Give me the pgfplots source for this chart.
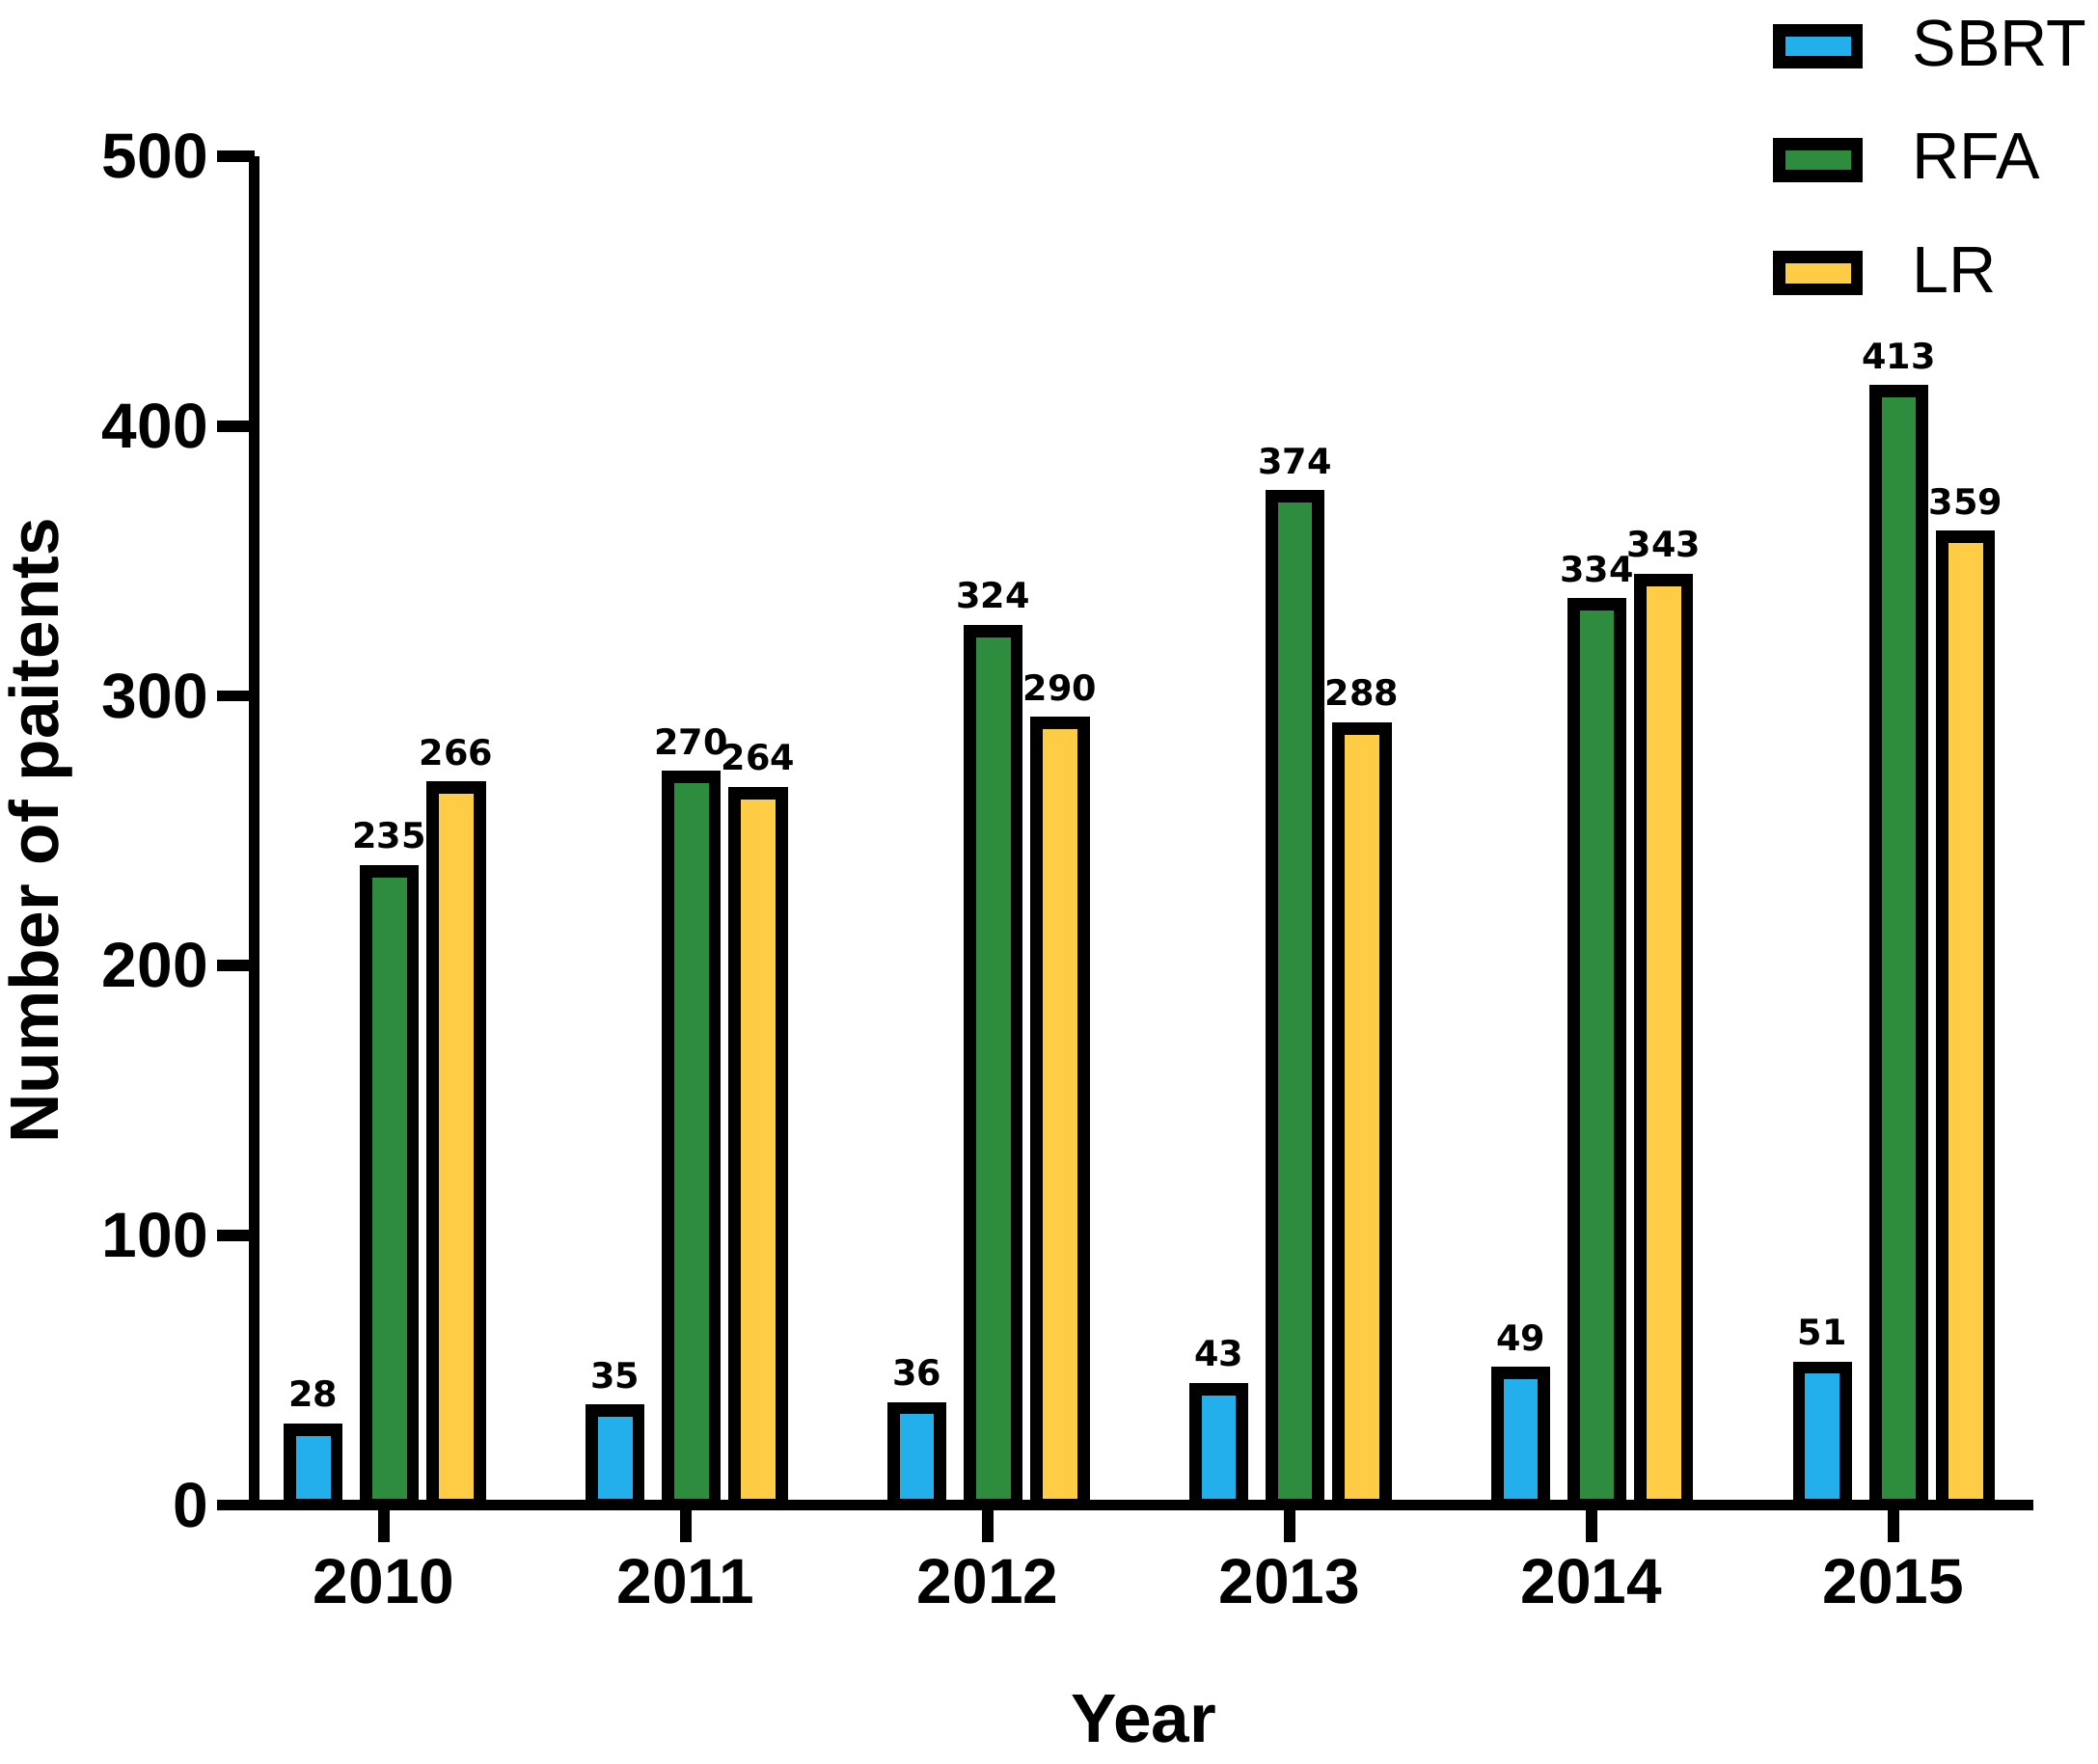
\documentclass[border=0pt]{standalone}
\usepackage{fontspec}
\setmainfont{Liberation Sans}
\newfontfamily\labfont{DejaVu Sans}
\usepackage{pgfplots}
\pgfplotsset{compat=1.18}
\definecolor{cblue}{RGB}{35,175,235}
\definecolor{cgreen}{RGB}{45,140,62}
\definecolor{cyellow}{RGB}{255,204,70}
\pgfplotsset{mylegend/.style={legend image code/.code={\draw[##1, line width=2.6pt] (0cm,-0.12cm) rectangle (0.58cm,0.12cm);}}}
\begin{document}
\begin{tikzpicture}
\path[use as bounding box] (-1.90cm,-1.93cm) rectangle (13.78cm,11.25cm);
\begin{axis}[
  ybar, bar width=0.35cm,
  scale only axis, width=13.30cm, height=10.08cm,
  xmin=-0.430, xmax=5.465, ymin=0, ymax=500,
  axis x line*=bottom, axis y line*=left,
  axis line style={line width=2.4pt},
  xtick={0,1,2,3,4,5}, xticklabels={2010,2011,2012,2013,2014,2015},
  ytick={0,100,200,300,400,500},
  tick align=outside, major tick length=0.28cm,
  tick style={line width=2.4pt, black},
  ticklabel style={font=\fontsize{13.5}{16}\selectfont\bfseries},
  yticklabel style={xshift=0.06cm},
  /pgf/number format/assume math mode=true,
  xlabel={Year}, ylabel={Number of paitents},
  label style={font=\fontsize{14.6}{17}\selectfont\bfseries},
  xlabel style={at={(axis description cs:0.5,-0.1587)}, anchor=center},
  ylabel style={at={(axis description cs:-0.1203,0.5)}, anchor=center},
  nodes near coords,
  every node near coord/.append style={font=\labfont\bfseries\fontsize{7.5}{9}\selectfont, anchor=south, inner sep=0pt, yshift=0.12cm, black},
  legend style={at={(axis description cs:0.853,1.109)}, anchor=north west, draw=none, fill=none,
    font=\fontsize{14}{17}\selectfont, row sep=0.315cm, inner sep=0pt, cells={anchor=west},
    /tikz/every odd column/.append style={column sep=0.3cm}},
]
\addplot[mylegend, bar shift=-0.53cm, fill=cblue, draw=black, line width=2.6pt]
  coordinates {(0,28) (1,35) (2,36) (3,43) (4,49) (5,51)};
\addplot[mylegend, bar shift=0.04cm, fill=cgreen, draw=black, line width=2.6pt]
  coordinates {(0,235) (1,270) (2,324) (3,374) (4,334) (5,413)};
\addplot[mylegend, bar shift=0.54cm, fill=cyellow, draw=black, line width=2.6pt]
  coordinates {(0,266) (1,264) (2,290) (3,288) (4,343) (5,359)};
\legend{SBRT,RFA,LR}
\end{axis}
\end{tikzpicture}
\end{document}
